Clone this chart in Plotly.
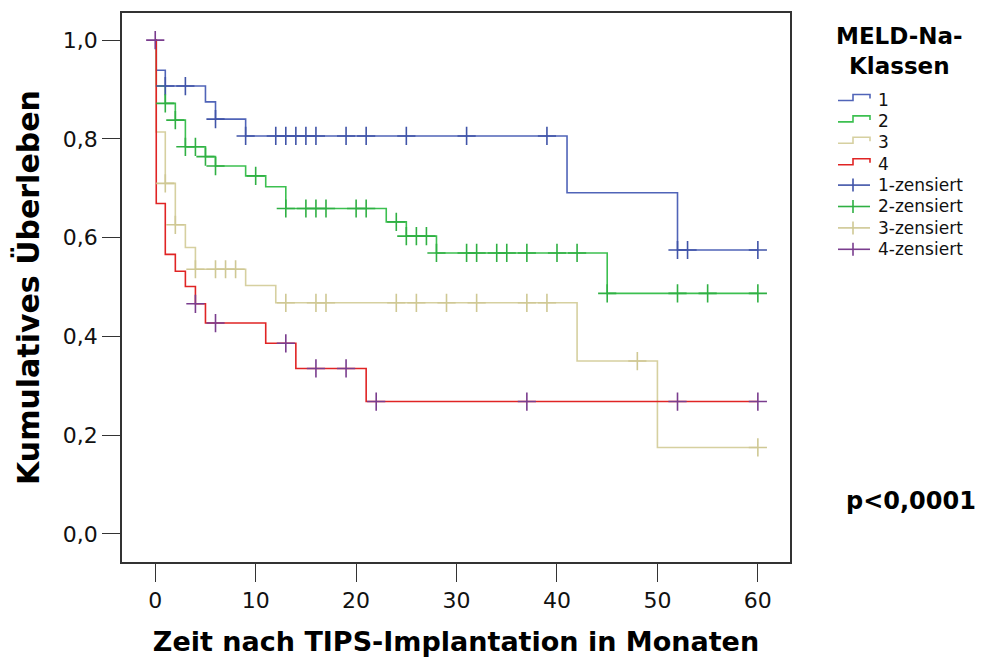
import plotly.graph_objects as go

# Kaplan-Meier data per MELD-Na class: event times (months), survival after each event,
# and censoring times
g1_event_t = [0.1, 1, 5, 6, 9, 41, 52]
g1_surv = [0.939, 0.907, 0.875, 0.840, 0.806, 0.691, 0.575]
g1_cens = [1, 3, 6, 9, 12, 13, 14, 15, 16, 19, 21, 25, 31, 39, 52, 53, 60]

g2_event_t = [0.1, 1, 2, 3, 5, 6, 9, 11, 13, 23, 25, 28, 45]
g2_surv = [0.907, 0.872, 0.838, 0.784, 0.764, 0.745, 0.725, 0.703, 0.659, 0.632, 0.603, 0.569, 0.487]
g2_cens = [1, 2, 3, 4, 5, 6, 10, 13, 15, 16, 17, 20, 21, 24, 25, 26, 27, 28,
           31, 32, 34, 35, 37, 40, 42, 45, 52, 55, 60]

g3_event_t = [0.1, 1, 2, 3, 4, 9, 12, 42, 50]
g3_surv = [0.814, 0.710, 0.626, 0.580, 0.536, 0.503, 0.468, 0.350, 0.175]
g3_cens = [1, 2, 4, 6, 7, 8, 13, 16, 17, 24, 26, 29, 32, 37, 39, 48, 60]

g4_event_t = [0.1, 1, 2, 3, 4, 5, 11, 14, 21]
g4_surv = [0.669, 0.566, 0.532, 0.501, 0.466, 0.427, 0.386, 0.335, 0.268]
g4_cens = [0, 4, 6, 13, 16, 19, 22, 37, 52, 60]

class_names = ["1", "2", "3", "4"]
censor_names = ["1-zensiert", "2-zensiert", "3-zensiert", "4-zensiert"]
line_colors = ["#5064b8", "#3cc050", "#d6d0a0", "#e02424"]
censor_colors = ["#4054a8", "#2fb043", "#cfc894", "#7a3d8e"]

x_ticks = [0, 10, 20, 30, 40, 50, 60]
y_ticks = [0.0, 0.2, 0.4, 0.6, 0.8, 1.0]

legend_title = "MELD-Na-<br>Klassen"
p_value_text = "p<0,0001"

groups = [
    (g1_event_t, g1_surv, g1_cens),
    (g2_event_t, g2_surv, g2_cens),
    (g3_event_t, g3_surv, g3_cens),
    (g4_event_t, g4_surv, g4_cens),
]


def surv_at(t, ev_t, surv):
    s = 1.0
    for et, sv in zip(ev_t, surv):
        if et <= t:
            s = sv
    return s


fig = go.Figure()

# survival step curves
for (ev_t, surv, cens), name, col in zip(groups, class_names, line_colors):
    end_t = max(cens)
    xs = [0] + list(ev_t) + [end_t]
    ys = [1.0] + list(surv) + [surv[-1]]
    fig.add_trace(go.Scatter(
        x=xs, y=ys, mode="lines", name=name, showlegend=False,
        line=dict(color=col, width=1.6, shape="hv"),
        hoverinfo="skip",
    ))

# censoring marks
for (ev_t, surv, cens), name, col in zip(groups, censor_names, censor_colors):
    fig.add_trace(go.Scatter(
        x=cens, y=[surv_at(c, ev_t, surv) for c in cens],
        mode="markers", name=name, showlegend=False,
        marker=dict(symbol="cross-thin", size=13, line=dict(color=col, width=1.6)),
        hoverinfo="skip",
    ))

# ---- legend block to the right of the plot (paper coordinates) ----
PLOT_L, PLOT_R, PLOT_T, PLOT_B = 122, 790, 13, 562


def px(xp):
    return (xp - PLOT_L) / (PLOT_R - PLOT_L)


def py(yp):
    return (PLOT_B - yp) / (PLOT_B - PLOT_T)


shapes = []
annotations = []

annotations.append(dict(
    text=legend_title, x=px(899), y=py(51), xref="paper", yref="paper",
    xanchor="center", yanchor="middle", showarrow=False, align="center",
    font=dict(family="DejaVu Sans", size=23, color="#000000", weight="bold"),
))

row0, row_step = 99.5, 21.4
g_left, g_mid, g_right, text_x = 838, 853, 870, 876

for i, (name, col) in enumerate(zip(class_names, line_colors)):
    yc = row0 + i * row_step
    path = "M {} {} L {} {} L {} {} L {} {} L {} {}".format(
        px(g_left), py(yc + 1), px(g_mid), py(yc + 1), px(g_mid), py(yc - 5),
        px(g_right), py(yc - 5), px(g_right), py(yc - 1))
    shapes.append(dict(type="path", path=path, xref="paper", yref="paper",
                       line=dict(color=col, width=1.6)))
    annotations.append(dict(
        text=name, x=px(text_x), y=py(yc), xref="paper", yref="paper",
        xanchor="left", yanchor="middle", showarrow=False,
        font=dict(family="DejaVu Sans", size=17, color="#111111"),
    ))

for j, (name, col) in enumerate(zip(censor_names, censor_colors)):
    yc = row0 + (j + 4) * row_step
    shapes.append(dict(type="line", xref="paper", yref="paper",
                       x0=px(g_left), x1=px(g_right), y0=py(yc), y1=py(yc),
                       line=dict(color=col, width=1.6)))
    shapes.append(dict(type="line", xref="paper", yref="paper",
                       x0=px(g_mid), x1=px(g_mid), y0=py(yc - 6.5), y1=py(yc + 6.5),
                       line=dict(color=col, width=1.6)))
    annotations.append(dict(
        text=name, x=px(text_x), y=py(yc), xref="paper", yref="paper",
        xanchor="left", yanchor="middle", showarrow=False,
        font=dict(family="DejaVu Sans", size=17, color="#111111"),
    ))

annotations.append(dict(
    text=p_value_text, x=px(911), y=py(501), xref="paper", yref="paper",
    xanchor="center", yanchor="middle", showarrow=False,
    font=dict(family="DejaVu Sans", size=24, color="#000000", weight="bold"),
))

axis_common = dict(
    showgrid=False, zeroline=False, showline=True, linecolor="#333333", linewidth=1.6,
    mirror=True, ticks="outside", tickcolor="#333333", tickwidth=1.4, automargin=False,
    tickfont=dict(family="DejaVu Sans", size=22, color="#111111"),
)

fig.update_layout(
    width=985, height=659, autosize=False,
    margin=dict(l=PLOT_L, r=985 - PLOT_R, t=PLOT_T, b=659 - PLOT_B),
    paper_bgcolor="white", plot_bgcolor="white",
    separators=",.",
    showlegend=False,
    xaxis=dict(
        range=[-3.31, 63.2], tickvals=x_ticks, ticklen=18,
        title=dict(text="Zeit nach TIPS-Implantation in Monaten", standoff=20,
                   font=dict(family="DejaVu Sans", size=27, color="#000000", weight="bold")),
        **axis_common,
    ),
    yaxis=dict(
        range=[-0.057, 1.055], tickvals=y_ticks, tickformat=".1f", ticklen=18,
        title=dict(text="Kumulatives Überleben", standoff=14,
                   font=dict(family="DejaVu Sans", size=30, color="#000000", weight="bold")),
        **axis_common,
    ),
    shapes=shapes,
    annotations=annotations,
)

fig.write_html("out.html")
